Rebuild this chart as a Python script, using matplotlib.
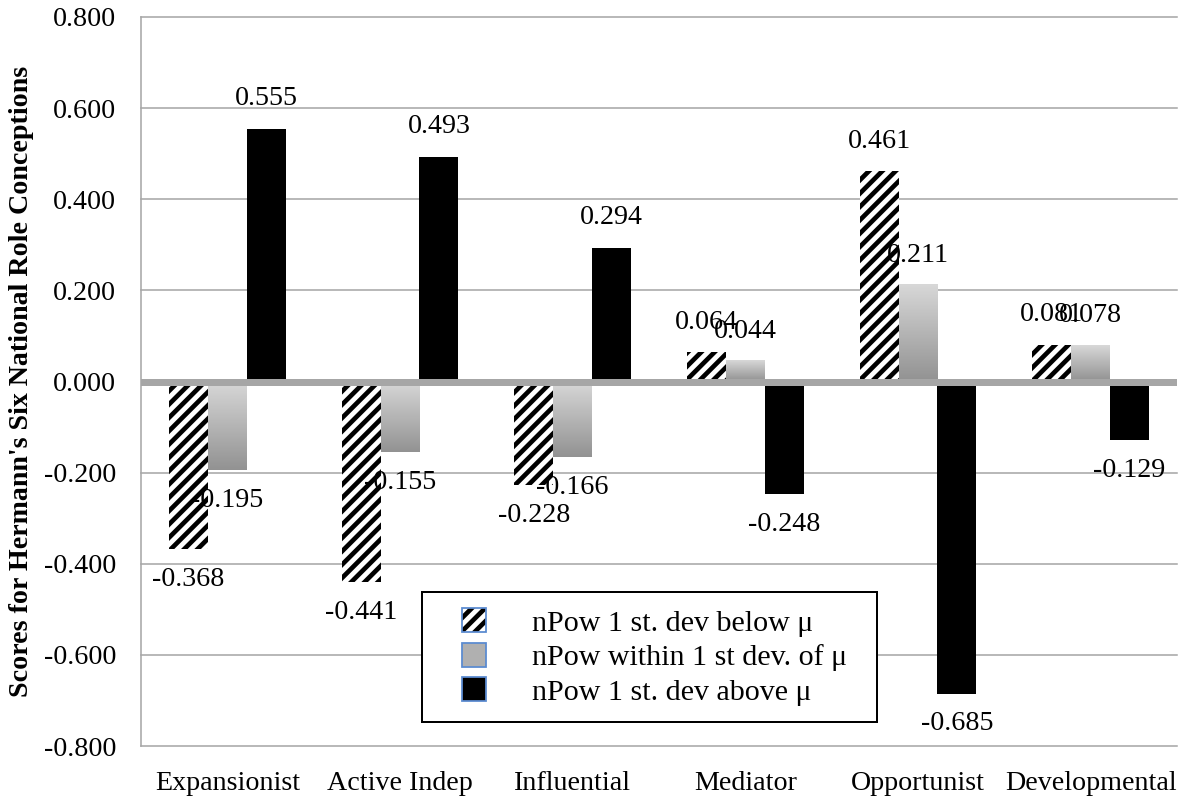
import numpy as np
import matplotlib
matplotlib.use("Agg")
import matplotlib.pyplot as plt
from matplotlib.patches import Patch, Rectangle
from matplotlib.legend_handler import HandlerPatch, HandlerTuple
from matplotlib.colors import LinearSegmentedColormap

categories = ["Expansionist", "Active Indep", "Influential", "Mediator", "Opportunist", "Developmental"]
series_names = ["nPow 1 st. dev below μ", "nPow within 1 st dev. of μ", "nPow 1 st. dev above μ"]
below = [-0.368, -0.441, -0.228, 0.064, 0.461, 0.081]
within = [-0.195, -0.155, -0.166, 0.044, 0.211, 0.078]
above = [0.555, 0.493, 0.294, -0.248, -0.685, -0.129]
yticks = [-0.8, -0.6, -0.4, -0.2, 0.0, 0.2, 0.4, 0.6, 0.8]
ylabel = "Scores for Hermann's Six National Role Conceptions"

DPI = 80
W, H = 1184, 798
FS = 28 * 72 / DPI  # 28 px font
GRID = "#A6A6A6"
BLUE = "#5B8BD0"

plt.rcParams["font.family"] = ["Liberation Serif", "DejaVu Serif"]
plt.rcParams["hatch.linewidth"] = 4.2

fig = plt.figure(figsize=(W / DPI, H / DPI), dpi=DPI)
L, R, T, B = 141, 1177, 17, 746
ax = fig.add_axes([L / W, 1 - B / H, (R - L) / W, (B - T) / H])

x = np.arange(len(categories))
bw = 0.225

b1 = ax.bar(x - bw, below, bw, facecolor="white", edgecolor="black", hatch="//", linewidth=0, zorder=2)
b2 = ax.bar(x, within, bw, color="#B5B5B5", linewidth=0, zorder=2)
b3 = ax.bar(x + bw, above, bw, color="black", linewidth=0, zorder=2)

# vertical gradient for the grey bars (light at top, darker at bottom)
grad = np.linspace(0, 1, 256).reshape(-1, 1)
gcmap = LinearSegmentedColormap.from_list("g", ["#D8D8D8", "#929292"])
for p in b2:
    x0 = p.get_x(); x1 = x0 + p.get_width()
    y0 = p.get_y(); y1 = y0 + p.get_height()
    lo, hi = min(y0, y1), max(y0, y1)
    ax.imshow(grad, cmap=gcmap, extent=(x0, x1, lo, hi), origin="upper",
              aspect="auto", zorder=2.1, interpolation="bilinear")

# gridlines and zero line
for yv in yticks:
    if yv != 0:
        ax.axhline(yv, color=GRID, lw=1.4, zorder=1, clip_on=False)
ax.axhline(0, color=GRID, lw=6.3, zorder=3)

# data labels
for bars, vals in ((b1, below), (b2, within), (b3, above)):
    for p, v in zip(bars, vals):
        cx = p.get_x() + p.get_width() / 2
        off = 30 if v >= 0 else -30
        ax.annotate(f"{v:.3f}", (cx, v), xytext=(0, off), textcoords="offset pixels",
                    ha="center", va="center", fontsize=FS, zorder=5)

ax.set_xlim(-0.5, len(categories) - 0.5)
ax.set_ylim(-0.8, 0.8)
ax.set_yticks(yticks)
ax.set_yticklabels([f"{v:.3f}" for v in yticks])
ax.set_xticks(x)
ax.set_xticklabels(categories)
ax.tick_params(axis="y", length=0, pad=22.5, labelsize=FS)
ax.tick_params(axis="x", length=0, pad=22.5, labelsize=FS)
for s in ("top", "right", "bottom"):
    ax.spines[s].set_visible(False)
ax.spines["left"].set_color(GRID)
ax.spines["left"].set_linewidth(1.4)

ax.set_ylabel(ylabel, fontsize=FS, fontweight="bold")
ax.yaxis.set_label_coords((22 - L) / (R - L), 0.5)
ax.yaxis.label.set_verticalalignment("center")

# legend
MS = 24 * 72 / DPI
def make_marker(legend, orig_handle, xdescent, ydescent, width, height, fontsize):
    return Rectangle((-xdescent + width - MS, -ydescent + (height - MS) / 2), MS, MS)

h_hatch = Patch(facecolor="white", edgecolor="black", hatch="//", linewidth=0)
h_hatch_edge = Patch(facecolor="none", edgecolor=BLUE, linewidth=1.6)
h_grey = Patch(facecolor="#B0B0B0", edgecolor=BLUE, linewidth=1.6)
h_black = Patch(facecolor="black", edgecolor=BLUE, linewidth=1.6)
handles = [(h_hatch, h_hatch_edge), h_grey, h_black]
hmap = {h: HandlerPatch(patch_func=make_marker) for h in (h_hatch, h_hatch_edge, h_grey, h_black)}
hmap[tuple] = HandlerTuple(ndivide=1, pad=0)
LFS = 30 * 72 / DPI
lx0, ly0, lx1, ly1 = 422, 592, 877, 722
leg = ax.legend(handles, series_names, loc="upper left",
                bbox_to_anchor=(lx0 / W, 1 - ly1 / H, (lx1 - lx0) / W, (ly1 - ly0) / H),
                bbox_transform=fig.transFigure, mode="expand", borderaxespad=0,
                fontsize=LFS, handlelength=47 / 30, handleheight=0.85, handletextpad=46 / 30,
                labelspacing=0.2, borderpad=0.55, fancybox=False, framealpha=1,
                edgecolor="black", handler_map=hmap)
leg.get_frame().set_linewidth(1.8)
leg.set_zorder(10)

fig.savefig("out.png", dpi=DPI)
